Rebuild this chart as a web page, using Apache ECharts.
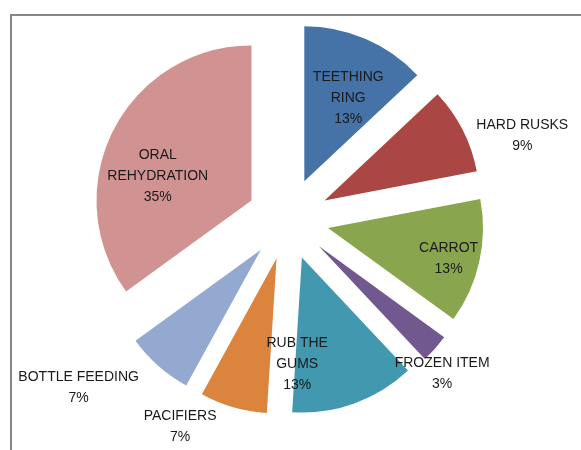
<!DOCTYPE html>
<html>
<head>
<meta charset="utf-8">
<script src="https://cdn.jsdelivr.net/npm/echarts@6/dist/echarts.min.js"></script>
<style>
  html, body { margin: 0; padding: 0; background: #fff; }
  #chart { width: 581px; height: 450px; }
</style>
</head>
<body>
<div id="chart"></div>
<script>
// slices, clockwise from 12 o'clock
var names = ['TEETHING\nRING', 'HARD RUSKS', 'CARROT', 'FROZEN ITEM', 'RUB THE\nGUMS', 'PACIFIERS', 'BOTTLE FEEDING', 'ORAL\nREHYDRATION'];
var values = [13, 9, 13, 3, 13, 7, 7, 35];
var colors = ['#4572A7', '#AA4643', '#89A54E', '#71588F', '#4198AF', '#DB843D', '#93A9CF', '#D19392'];

// label nudges from the default inside spot (excel "best fit" look)
var labelNudge = [[12, -9], [126, -28], [42, 13], [63, 74], [-32, 31], [-74, 91], [-129, 78], [-22, 12]];

var chart = echarts.init(document.getElementById('chart'), null, { renderer: 'canvas' });

var pieData = names.map(function (n, i) {
  return {
    name: n,
    value: values[i],
    selected: true,
    itemStyle: { color: colors[i] }
  };
});

var option = {
  animation: false,
  graphic: [{
    type: 'rect',
    shape: { x: 11, y: 15, width: 700, height: 600 },
    style: { fill: 'none', stroke: '#878787', lineWidth: 2 },
    z: -1
  }],
  series: [{
    type: 'pie',
    center: [288, 219],
    radius: 155,
    startAngle: 90,
    clockwise: true,
    selectedMode: 'multiple',
    selectedOffset: 41,
    avoidLabelOverlap: false,
    silent: true,
    itemStyle: { borderWidth: 0 },
    select: { itemStyle: { borderWidth: 0 } },
    emphasis: { disabled: true },
    label: {
      show: true,
      position: 'inside',
      color: '#1a1a1a',
      fontFamily: 'Liberation Sans',
      fontSize: 14,
      lineHeight: 21,
      align: 'center',
      formatter: function (p) { return p.name + '\n' + p.value + '%'; }
    },
    labelLine: { show: false },
    labelLayout: function (p) {
      var d = labelNudge[p.dataIndex];
      return { dx: d[0], dy: d[1] };
    },
    data: pieData
  }]
};

chart.setOption(option);
</script>
</body>
</html>
